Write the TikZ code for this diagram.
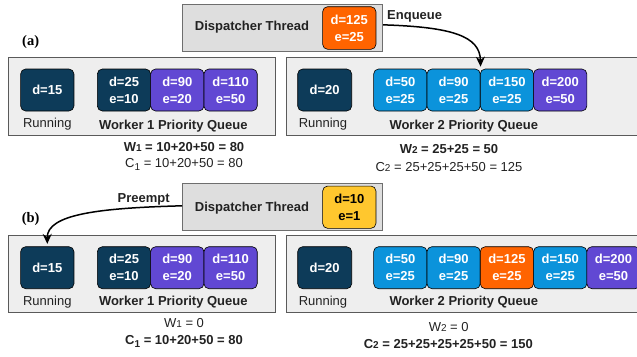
\documentclass[tikz,border=0pt]{standalone}
\usepackage{fontspec}
\setmainfont{Liberation Sans}
\newfontfamily\serifbold{Liberation Serif}
\usetikzlibrary{arrows.meta}
\definecolor{navy}{HTML}{0D3B59}
\definecolor{purp}{HTML}{6148D3}
\definecolor{lblue}{HTML}{0B93DB}
\definecolor{orng}{HTML}{FF6400}
\definecolor{yell}{HTML}{FFC72E}
\definecolor{panelfill}{HTML}{EEEEEE}
\definecolor{panelborder}{HTML}{5A5A5A}
\definecolor{dispfill}{HTML}{DEDEDE}
\definecolor{dispborder}{HTML}{6E6E6E}
\definecolor{txt}{HTML}{222222}
\newcommand\smallsub[1]{{\fontsize{10}{10}\selectfont #1}}
\newcommand\lowsub[1]{\raisebox{-3pt}{\fontsize{10}{10}\selectfont #1}}
\tikzset{
  panel/.style={draw=panelborder, fill=panelfill, line width=1pt, minimum height=78pt, inner sep=0pt},
  disp/.style={draw=dispborder, fill=dispfill, line width=1pt, minimum width=200pt, minimum height=47.5pt, inner sep=0pt},
  tbox/.style={draw=black, rounded corners=5pt, line width=0.6pt, text=white,
    font=\fontsize{13}{17}\selectfont\bfseries, align=center,
    minimum width=53.3pt, minimum height=42pt, inner sep=0pt},
  lbl/.style={font=\fontsize{13}{15}\selectfont, text=txt, inner sep=0pt},
  blbl/.style={font=\fontsize{13}{15}\selectfont\bfseries, text=txt, inner sep=0pt},
  tag/.style={font=\fontsize{14.5}{16}\selectfont\serifbold\bfseries, inner sep=0pt},
  conn/.style={line width=1.5pt, -{Stealth[length=10pt,width=9pt]}}
}
\begin{document}
\begin{tikzpicture}[x=1pt,y=-1pt]
\useasboundingbox (0,0) rectangle (637,356);
\clip (0,0) rectangle (637,356);
% ---------------- (a) ----------------
\node[tag] (tagA) at (30.7,41.7) {(a)};
\node[disp] (disA) at (282.7,27.85) {};
\node[blbl] (disAt) at (252,27) {Dispatcher Thread};
\node[tbox, fill=orng, minimum height=42.6pt] (newA) at (349.3,28) {d=125\\e=25};
\node[panel, minimum width=267pt] (p1A) at (141.8,96.7) {};
\node[panel, minimum width=360pt] (p2A) at (466.7,96.7) {};
\node[tbox, fill=navy] (r1A) at (47.3,90) {d=15};
\node[lbl] (run1A) at (47.3,124) {Running};
\node[tbox, fill=navy] (qa1) at (124,90) {d=25\\e=10};
\node[tbox, fill=purp] (qa2) at (177.3,90) {d=90\\e=20};
\node[tbox, fill=purp] (qa3) at (230.6,90) {d=110\\e=50};
\node[blbl] (w1lA) at (173.3,125.7) {Worker 1 Priority Queue};
\node[tbox, fill=navy, minimum width=54pt] (r2A) at (324.7,90) {d=20};
\node[lbl] (run2A) at (323,124) {Running};
\node[tbox, fill=lblue] (qb1) at (400.3,90) {d=50\\e=25};
\node[tbox, fill=lblue] (qb2) at (453.6,90) {d=90\\e=25};
\node[tbox, fill=lblue] (qb3) at (506.9,90) {d=150\\e=25};
\node[tbox, fill=purp] (qb4) at (560.2,90) {d=200\\e=50};
\node[blbl] (w2lA) at (463.8,125.7) {Worker 2 Priority Queue};
\node[blbl] (fW1A) at (184,147) {W\smallsub{1} = 10+20+50 = 80};
\node[lbl] (fC1A) at (184,164.7) {C\lowsub{1} = 10+20+50 = 80};
\node[blbl] (fW2A) at (449,149) {W\smallsub{2} = 25+25 = 50};
\node[lbl] (fC2A) at (449,166.7) {C\smallsub{2} = 25+25+25+50 = 125};
\node[blbl, anchor=west] (enq) at (387,16.7) {Enqueue};
\draw[conn] ([yshift=3pt]disA.east) .. controls (452,27) and (480,36) .. ([yshift=2pt]qb2.north east);
% ---------------- (b) ----------------
\node[tag] (tagB) at (30.7,219.3) {(b)};
\node[disp] (disB) at (282.7,206.8) {};
\node[blbl] (disBt) at (252,207.7) {Dispatcher Thread};
\node[tbox, fill=yell, text=black, minimum height=42.3pt] (newB) at (349.3,207.2) {d=10\\e=1};
\node[panel, minimum width=267pt, minimum height=77.4pt] (p1B) at (141.8,274) {};
\node[panel, minimum width=360pt, minimum height=77.4pt] (p2B) at (466.7,274) {};
\node[tbox, fill=navy] (r1B) at (47.3,267.7) {d=15};
\node[lbl] (run1B) at (47.3,302) {Running};
\node[tbox, fill=navy] (qc1) at (124,267.7) {d=25\\e=10};
\node[tbox, fill=purp] (qc2) at (177.3,267.7) {d=90\\e=20};
\node[tbox, fill=purp] (qc3) at (230.6,267.7) {d=110\\e=50};
\node[blbl] (w1lB) at (173.3,302.5) {Worker 1 Priority Queue};
\node[tbox, fill=navy, minimum width=54pt] (r2B) at (324.7,267.7) {d=20};
\node[lbl] (run2B) at (323,302) {Running};
\node[tbox, fill=lblue] (qd1) at (400.3,267.7) {d=50\\e=25};
\node[tbox, fill=lblue] (qd2) at (453.6,267.7) {d=90\\e=25};
\node[tbox, fill=orng] (qd3) at (506.9,267.7) {d=125\\e=25};
\node[tbox, fill=lblue] (qd4) at (560.2,267.7) {d=150\\e=25};
\node[tbox, fill=purp] (qd5) at (613.5,267.7) {d=200\\e=50};
\node[blbl] (w2lB) at (463.8,302.5) {Worker 2 Priority Queue};
\node[lbl] (fW1B) at (184,323) {W\smallsub{1} = 0};
\node[blbl] (fC1B) at (184,341.7) {C\lowsub{1} = 10+20+50 = 80};
\node[lbl] (fW2B) at (448.7,326.7) {W\smallsub{2} = 0};
\node[blbl] (fC2B) at (448.3,343.7) {C\smallsub{2} = 25+25+25+25+50 = 150};
\node[blbl] (pre) at (143.7,199.3) {Preempt};
\draw[conn] ([yshift=1pt]disB.west) .. controls (100,208) and (47,214) .. ([yshift=2.5pt]r1B.north);
\end{tikzpicture}
\end{document}
